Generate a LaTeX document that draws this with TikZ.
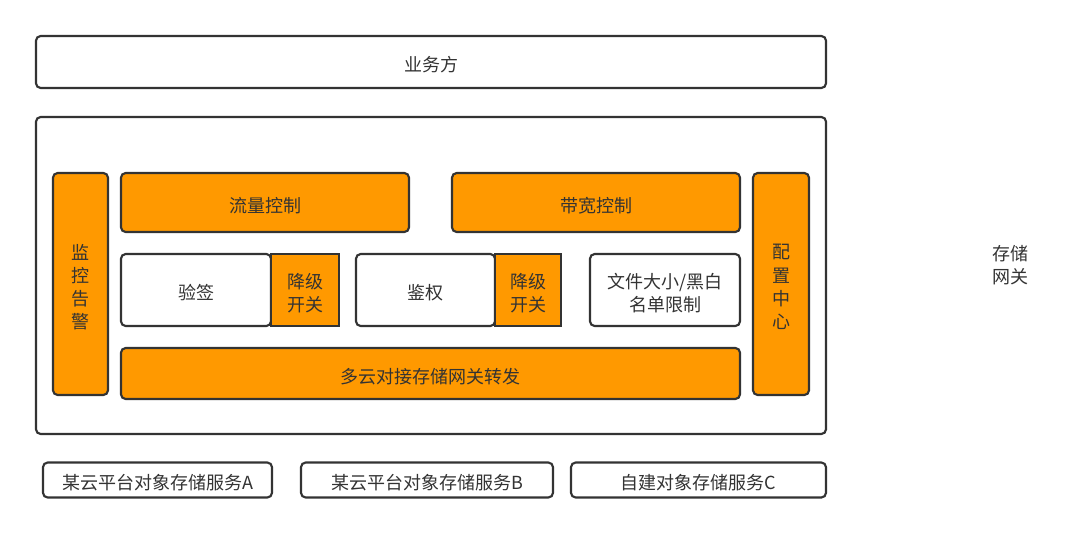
\documentclass[tikz,border=0pt]{standalone}
\usepackage{fontspec}
\setmainfont{Noto Sans CJK SC}
\definecolor{ln}{HTML}{333333}
\definecolor{org}{HTML}{FF9900}
\newcommand\lowr[1]{\raisebox{-2.2pt}[\height][\depth]{#1}}
\begin{document}
\begin{tikzpicture}[x=0.75pt,y=-0.75pt,
  box/.style={draw=ln,line width=1.6pt,rounded corners=3.5pt,fill=white,inner sep=0pt,
    text=ln,font=\fontsize{13.5pt}{17.3pt}\selectfont,align=center},
  obox/.style={box,fill=org},
  sq/.style={obox,sharp corners},
  lbl/.style={text=ln,align=center,font=\fontsize{13.5pt}{17.3pt}\selectfont,inner sep=0pt}]
\useasboundingbox[fill=white] (0,0) rectangle (1080,533);
% top
\node[box,minimum width=790*0.75pt,minimum height=52*0.75pt] (yewu) at (431,62) {\lowr{业务方}};
% gateway
\node[box,minimum width=790*0.75pt,minimum height=317*0.75pt] (gw) at (431,275.5) {};
\node[obox,minimum width=55*0.75pt,minimum height=222*0.75pt] (jk) at (80.5,284) {\lowr{监}\\\lowr{控}\\\lowr{告}\\\lowr{警}};
\node[obox,minimum width=288*0.75pt,minimum height=59*0.75pt] (ll) at (265,202.5) {\lowr{流量控制}};
\node[obox,minimum width=288*0.75pt,minimum height=59*0.75pt] (dk) at (596,202.5) {\lowr{带宽控制}};
\node[obox,minimum width=56*0.75pt,minimum height=222*0.75pt] (pz) at (781,284) {\lowr{配}\\\lowr{置}\\\lowr{中}\\\lowr{心}};
\node[box,minimum width=150*0.75pt,minimum height=72*0.75pt] (yq) at (196,290) {\lowr{验签}};
\node[sq,minimum width=68*0.75pt,minimum height=72*0.75pt] (jj1) at (305,290) {\lowr{降级}\\\lowr{开关}};
\node[box,minimum width=139*0.75pt,minimum height=72*0.75pt] (jq) at (425.5,290) {\lowr{鉴权}};
\node[sq,minimum width=66*0.75pt,minimum height=72*0.75pt] (jj2) at (528,290) {\lowr{降级}\\\lowr{开关}};
\node[box,minimum width=150*0.75pt,minimum height=72*0.75pt] (wj) at (665,290) {\lowr{文件大小/黑白}\\\lowr{名单限制}};
\node[obox,minimum width=619*0.75pt,minimum height=51*0.75pt] (dy) at (430.5,373.5) {\lowr{多云对接存储网关转发}};
% bottom
\node[box,minimum width=229*0.75pt,minimum height=35*0.75pt] (sa) at (157.5,480) {\lowr{某云平台对象存储服务A}};
\node[box,minimum width=252*0.75pt,minimum height=35*0.75pt] (sb) at (427,480) {\lowr{某云平台对象存储服务B}};
\node[box,minimum width=255*0.75pt,minimum height=35*0.75pt] (sc) at (698.5,480) {\lowr{自建对象存储服务C}};
% side label
\node[lbl] (lab) at (1010,265) {存储\\网关};
\end{tikzpicture}
\end{document}
